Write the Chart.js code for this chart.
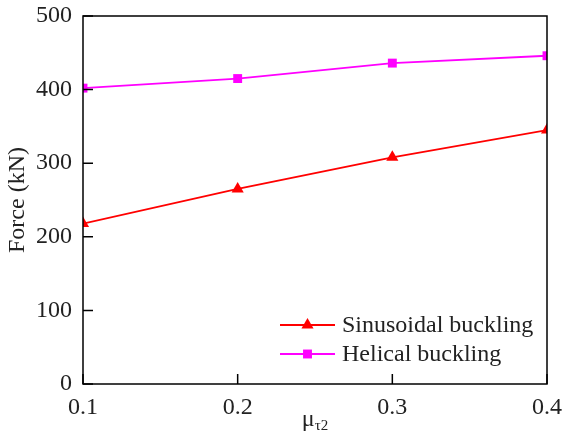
<!DOCTYPE html>
<html>
<head>
<meta charset="utf-8">
<script src="https://cdn.jsdelivr.net/npm/chart.js@4.4.0/dist/chart.umd.min.js"></script>
<style>
  html, body { margin: 0; padding: 0; background: #fff; }
  #wrap { width: 563px; height: 443px; }
</style>
</head>
<body>
<div id="wrap"><canvas id="myChart" width="563" height="443"></canvas></div>
<script>
// data
const muValues = [0.1, 0.2, 0.3, 0.4];
const sinusoidal = [218, 265, 308, 345];
const helical = [402, 415, 436, 446];
const xTicks = [0.1, 0.2, 0.3, 0.4];
const yTicks = [0, 100, 200, 300, 400, 500];
const seriesNames = ['Sinusoidal buckling', 'Helical buckling'];

const FONT = 'Liberation Serif, Times New Roman, serif';

// frame + inward ticks, x title, legend
const framePlugin = {
  id: 'frame',
  afterDraw(chart) {
    const { ctx, chartArea: a, scales } = chart;
    ctx.save();
    ctx.strokeStyle = '#000';
    ctx.lineWidth = 1.5;
    ctx.strokeRect(a.left, a.top, a.right - a.left, a.bottom - a.top);
    ctx.beginPath();
    xTicks.forEach(v => {
      const x = scales.x.getPixelForValue(v);
      ctx.moveTo(x, a.bottom);
      ctx.lineTo(x, a.bottom - 10);
    });
    yTicks.forEach(v => {
      const y = scales.y.getPixelForValue(v);
      ctx.moveTo(a.left, y);
      ctx.lineTo(a.left + 10, y);
    });
    ctx.stroke();

    // x title with subscript
    const cx = (a.left + a.right) / 2;
    ctx.fillStyle = '#222';
    ctx.textBaseline = 'alphabetic';
    ctx.font = '24px ' + FONT;
    const muW = ctx.measureText('μ').width;
    ctx.font = '15px ' + FONT;
    const subW = ctx.measureText('τ2').width;
    const start = cx - (muW + subW) / 2;
    ctx.font = '24px ' + FONT;
    ctx.textAlign = 'left';
    ctx.fillText('μ', start, 426);
    ctx.font = '15px ' + FONT;
    ctx.fillText('τ2', start + muW, 430);

    // legend inside
    const items = [
      { name: seriesNames[0], color: '#ff0000', style: 'triangle', r: 7, y: 325 },
      { name: seriesNames[1], color: '#ff00ff', style: 'rect', r: 6.3, y: 354 }
    ];
    items.forEach(it => {
      ctx.strokeStyle = it.color;
      ctx.lineWidth = 1.8;
      ctx.beginPath();
      ctx.moveTo(280, it.y);
      ctx.lineTo(335, it.y);
      ctx.stroke();
      ctx.fillStyle = it.color;
      Chart.helpers.drawPoint(ctx, { pointStyle: it.style, radius: it.r, borderWidth: 0 }, 307.5, it.y);
      ctx.fillStyle = '#222';
      ctx.font = '24px ' + FONT;
      ctx.textAlign = 'left';
      ctx.textBaseline = 'middle';
      ctx.fillText(it.name, 342, it.y + 1);
    });
    ctx.restore();
  }
};

const ctx = document.querySelector('#myChart').getContext('2d');
const myChart = new Chart(ctx, {
  type: 'line',
  data: {
    datasets: [{
      label: seriesNames[0],
      data: muValues.map((m, i) => ({ x: m, y: sinusoidal[i] })),
      borderColor: '#ff0000',
      backgroundColor: '#ff0000',
      borderWidth: 1.8,
      pointStyle: 'triangle',
      pointRadius: 7,
      pointBorderWidth: 0,
      tension: 0
    }, {
      label: seriesNames[1],
      data: muValues.map((m, i) => ({ x: m, y: helical[i] })),
      borderColor: '#ff00ff',
      backgroundColor: '#ff00ff',
      borderWidth: 1.8,
      pointStyle: 'rect',
      pointRadius: 6.3,
      pointBorderWidth: 0,
      tension: 0
    }]
  },
  options: {
    responsive: false,
    animation: false,
    devicePixelRatio: 1,
    layout: { padding: { top: 16, right: 16, left: 0, bottom: 0 } },
    plugins: { legend: { display: false }, tooltip: { enabled: false } },
    scales: {
      x: {
        type: 'linear',
        min: 0.1, max: 0.4,
        afterBuildTicks: s => { s.ticks = xTicks.map(v => ({ value: v })); },
        afterFit: s => { s.height = 59; s.paddingLeft = 0; s.paddingRight = 0; },
        grid: { display: false, drawTicks: false },
        border: { display: false },
        ticks: {
          padding: 9,
          color: '#222',
          font: { family: FONT, size: 24 },
          maxRotation: 0,
          callback: v => v.toFixed(1)
        }
      },
      y: {
        min: 0, max: 500,
        afterBuildTicks: s => { s.ticks = yTicks.map(v => ({ value: v })); },
        afterFit: s => { s.width = 83; s.paddingTop = 0; s.paddingBottom = 0; },
        grid: { display: false, drawTicks: false },
        border: { display: false },
        ticks: {
          padding: 11,
          color: '#222',
          font: { family: FONT, size: 24 }
        },
        title: {
          display: true,
          text: 'Force (kN)',
          color: '#222',
          font: { family: FONT, size: 24 },
          padding: { top: 3, bottom: 0 }
        }
      }
    }
  },
  plugins: [framePlugin]
});
</script>
</body>
</html>
